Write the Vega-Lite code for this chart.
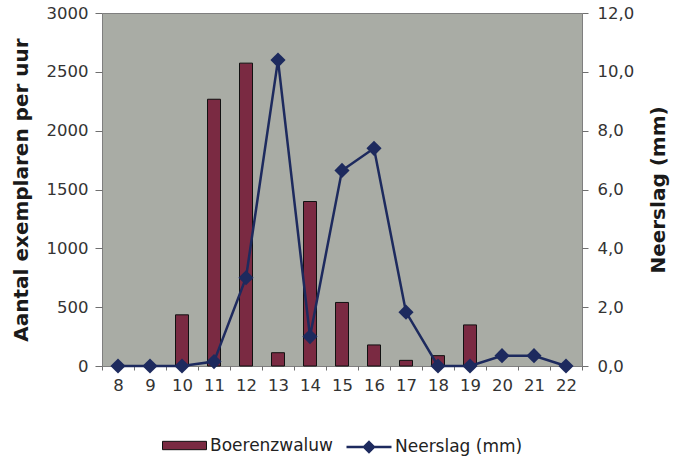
{
  "$schema": "https://vega.github.io/schema/vega-lite/v6.json",
  "autosize": {"type": "none"},
  "padding": {"left": 102, "top": 13, "right": 98, "bottom": 96},
  "width": 480,
  "height": 353,
  "background": "white",
  "config": {
    "font": "DejaVu Sans",
    "view": {"fill": "#a9aca5", "stroke": "#7f7f7f", "strokeWidth": 1},
    "axis": {"labelFont": "DejaVu Sans", "titleFont": "DejaVu Sans", "labelColor": "#333333", "titleColor": "#1a1a1a", "domainColor": "#7f7f7f", "tickColor": "#6f6f6f", "grid": false},
    "legend": {"labelFont": "DejaVu Sans"}
  },
  "data": {
    "values": [
      {"uur": 8, "Boerenzwaluw": 0, "Neerslag": 0},
      {"uur": 9, "Boerenzwaluw": 0, "Neerslag": 0},
      {"uur": 10, "Boerenzwaluw": 435, "Neerslag": 0},
      {"uur": 11, "Boerenzwaluw": 2267, "Neerslag": 0.15},
      {"uur": 12, "Boerenzwaluw": 2574, "Neerslag": 3.0},
      {"uur": 13, "Boerenzwaluw": 113, "Neerslag": 10.4},
      {"uur": 14, "Boerenzwaluw": 1398, "Neerslag": 1.0},
      {"uur": 15, "Boerenzwaluw": 540, "Neerslag": 6.65},
      {"uur": 16, "Boerenzwaluw": 179, "Neerslag": 7.4},
      {"uur": 17, "Boerenzwaluw": 48, "Neerslag": 1.83},
      {"uur": 18, "Boerenzwaluw": 88, "Neerslag": 0},
      {"uur": 19, "Boerenzwaluw": 349, "Neerslag": 0},
      {"uur": 20, "Boerenzwaluw": 0, "Neerslag": 0.35},
      {"uur": 21, "Boerenzwaluw": 0, "Neerslag": 0.35},
      {"uur": 22, "Boerenzwaluw": 0, "Neerslag": 0}
    ]
  },
  "encoding": {
    "x": {
      "field": "uur", "type": "ordinal", "title": null,
      "scale": {"paddingInner": 0, "paddingOuter": 0},
      "axis": {"labelAngle": 0, "labelFontSize": 16.5, "labelPadding": 7, "tickBand": "extent", "tickSize": 4, "domain": false}
    }
  },
  "layer": [
    {
      "transform": [{"filter": "datum.Boerenzwaluw > 0"}],
      "mark": {"type": "bar", "size": 13, "stroke": "#111111", "strokeWidth": 1},
      "encoding": {
        "y": {
          "field": "Boerenzwaluw", "type": "quantitative",
          "scale": {"domain": [0, 3000]},
          "axis": {"values": [0, 500, 1000, 1500, 2000, 2500, 3000], "format": "d", "labelFontSize": 16.5, "labelPadding": 7, "tickSize": 7, "title": "Aantal exemplaren per uur", "titleFontSize": 20, "titleFontWeight": "bold", "titleX": -81, "titleY": 176.5, "titleAngle": 270, "titleAlign": "center", "titleBaseline": "middle", "domain": false}
        },
        "fill": {
          "datum": "Boerenzwaluw",
          "scale": {"range": ["#7a2a42"]},
          "legend": {
            "title": null, "orient": "none", "legendX": 60, "legendY": 410, "padding": 0,
            "labelFontSize": 17, "labelColor": "#222222", "labelOffset": 3,
            "symbolType": "M-1,-0.19H1V0.19H-1Z", "symbolSize": 1936,
            "symbolStrokeColor": "#111111", "symbolStrokeWidth": 1
          }
        }
      }
    },
    {
      "layer": [
        {
          "mark": {"type": "line", "strokeWidth": 2.5},
          "encoding": {
            "stroke": {
              "datum": "Neerslag (mm)",
              "scale": {"range": ["#1d2a5e"]},
              "legend": {
                "title": null, "orient": "none", "legendX": 243, "legendY": 410, "padding": 0,
                "labelFontSize": 17, "labelColor": "#222222", "labelOffset": 2,
                "symbolType": "M-1,0H1M0,-0.22L0.22,0L0,0.22L-0.22,0Z", "symbolSize": 2025,
                "symbolStrokeWidth": 2.5, "symbolFillColor": "#1d2a5e",
                "encode": {"symbols": {"update": {"fill": {"value": "#1d2a5e"}, "stroke": {"value": "#1d2a5e"}}}}
              }
            }
          }
        },
        {
          "mark": {"type": "point", "shape": "diamond", "filled": true, "size": 230, "color": "#1d2a5e", "opacity": 1},
          "encoding": {}
        }
      ],
      "encoding": {
        "y": {
          "field": "Neerslag", "type": "quantitative",
          "scale": {"domain": [0, 12]},
          "axis": {"orient": "right", "values": [0, 2, 4, 6, 8, 10, 12], "labelExpr": "replace(format(datum.value, '.1f'), '.', ',')", "labelFontSize": 16.5, "labelPadding": 9, "tickSize": 6, "title": "Neerslag (mm)", "titleFontSize": 20, "titleFontWeight": "bold", "titleAngle": 270, "titleX": 76, "titleY": 176.5, "titleAlign": "center", "titleBaseline": "middle", "domain": false}
        }
      }
    }
  ],
  "resolve": {"scale": {"y": "independent"}}
}
